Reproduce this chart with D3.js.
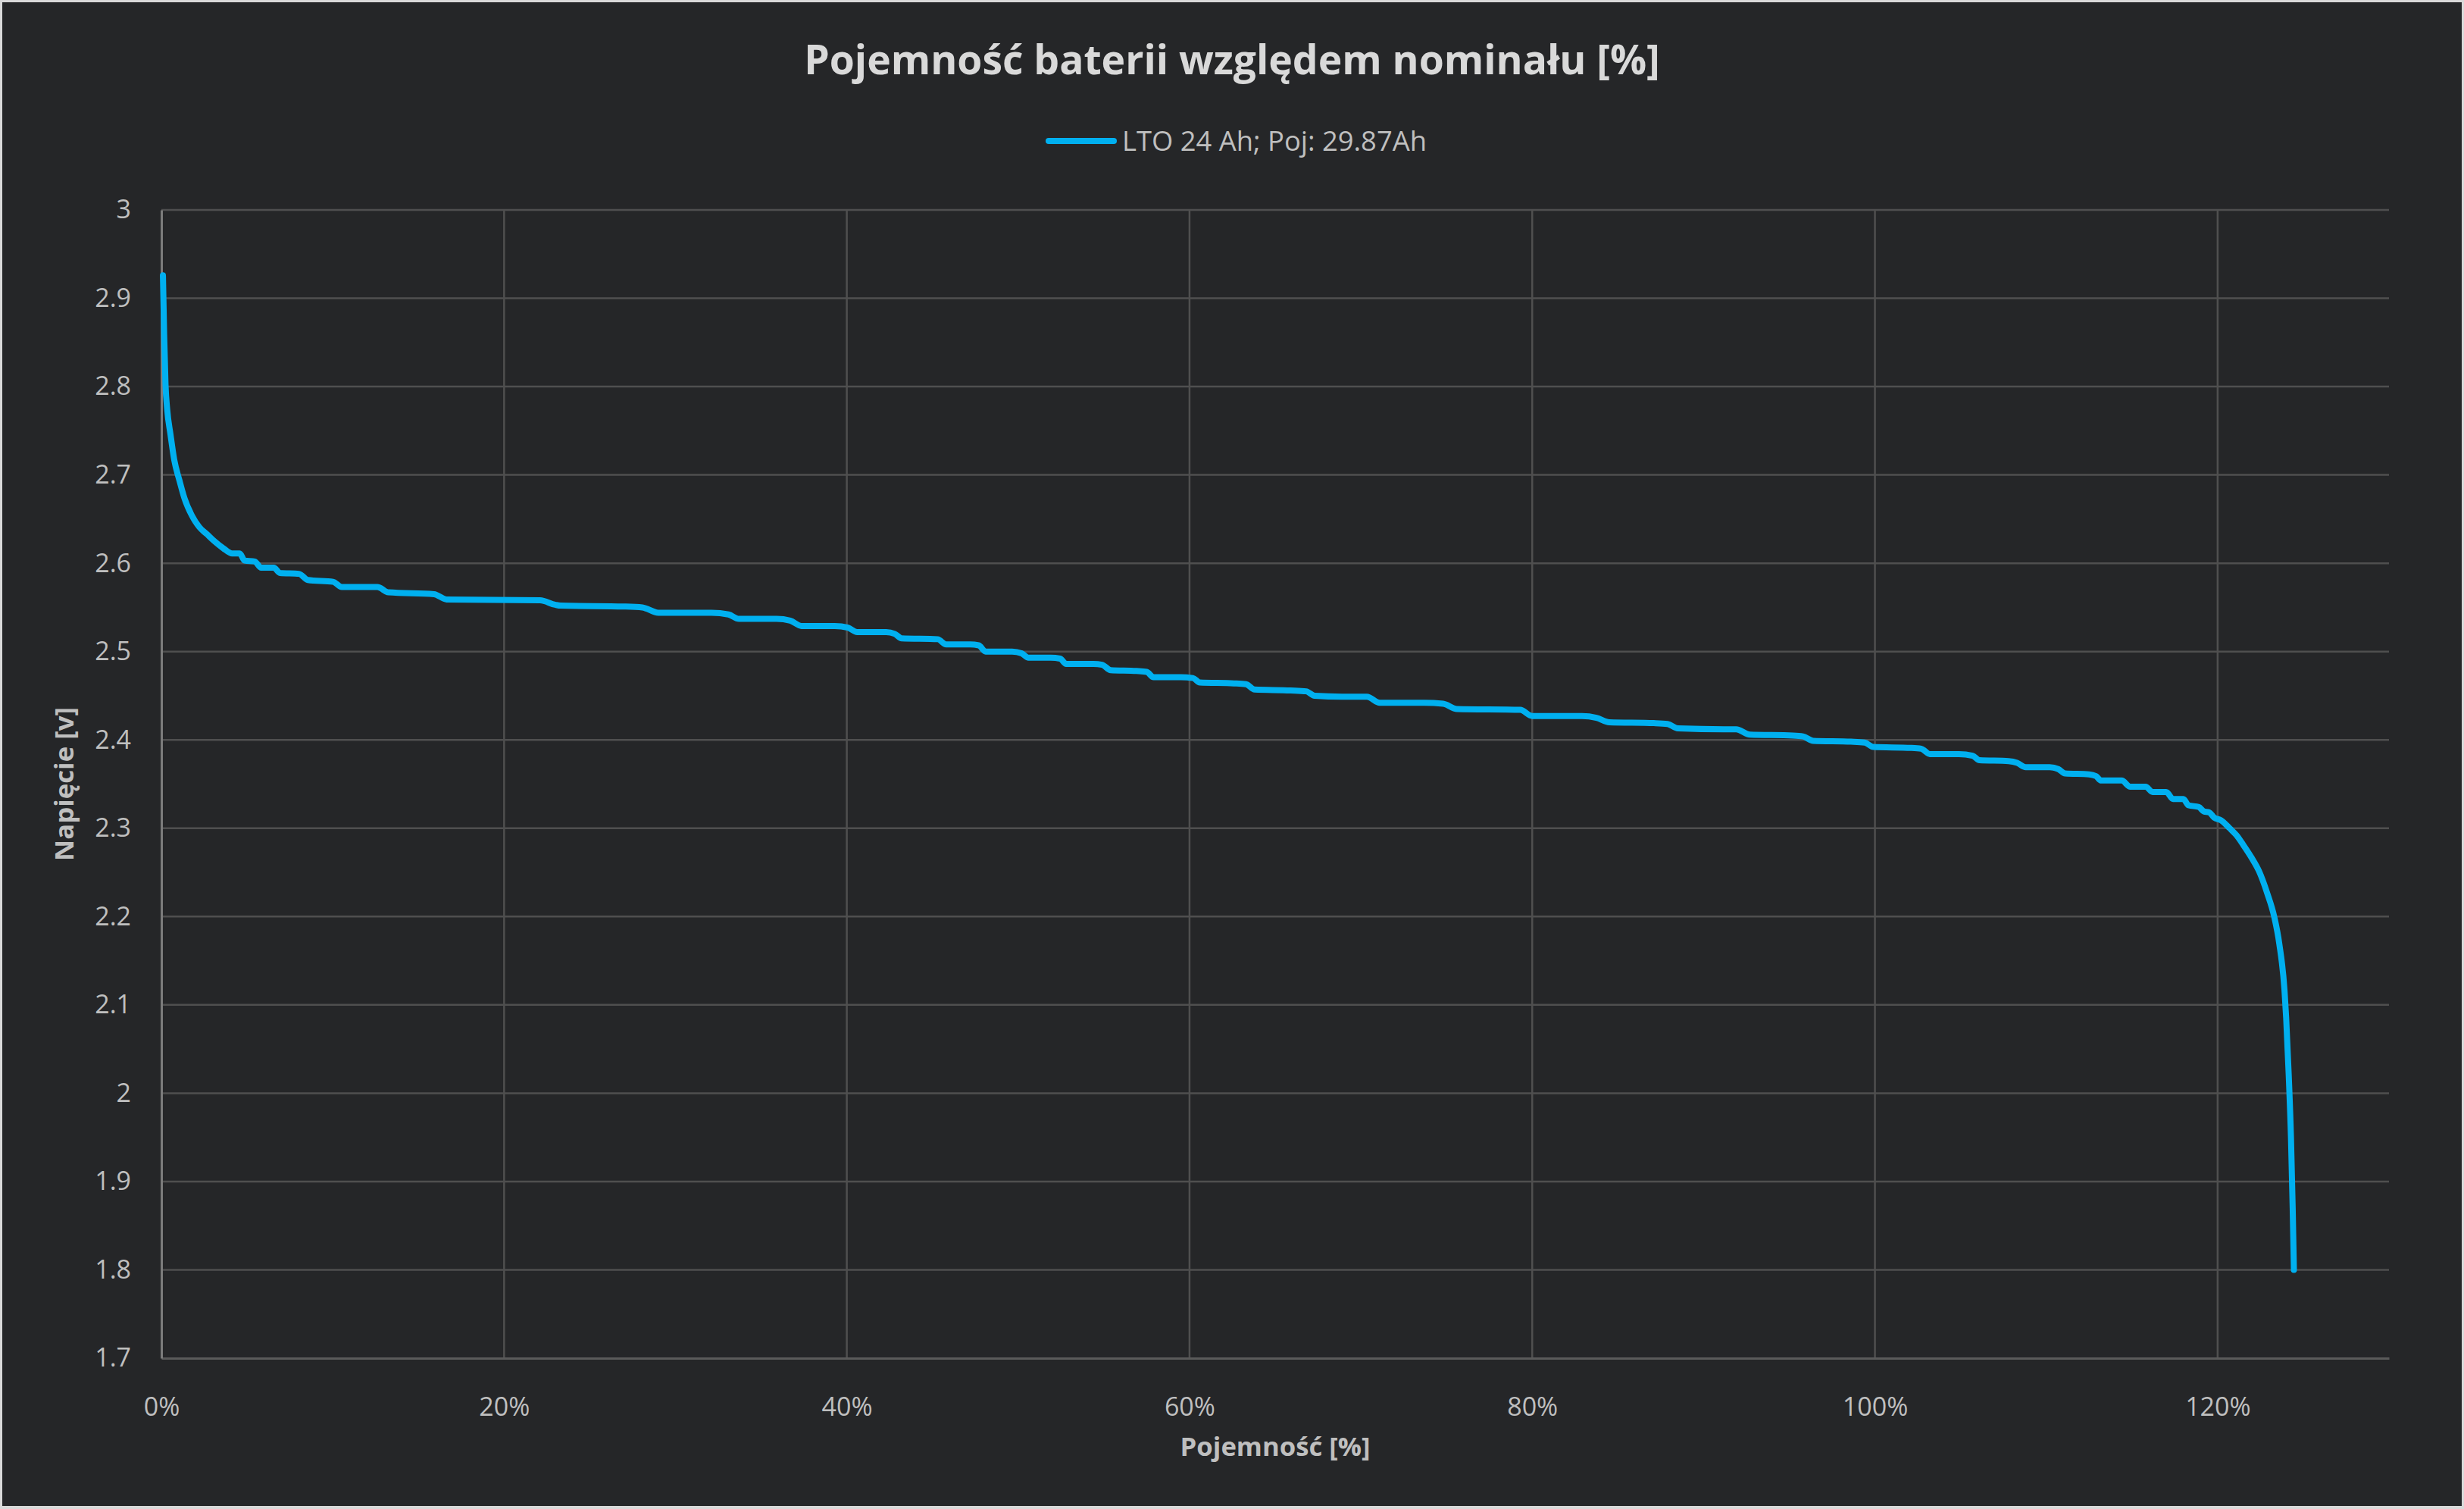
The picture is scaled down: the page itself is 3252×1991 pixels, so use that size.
<!DOCTYPE html>
<html>
<head>
<meta charset="utf-8">
<script src="https://cdn.jsdelivr.net/npm/d3@7"></script>
<style>
    html, body { margin: 0; padding: 0; background: #252628; }
    svg { display: block; }
    text { font-family: "Open Sans", "DejaVu Sans", sans-serif; }
</style>
</head>
<body>
<div id="chart"></div>
<script>
const width = 3252;
const height = 1991;

const titleText = "Pojemność baterii względem nominału [%]";
const seriesName = "LTO 24 Ah; Poj: 29.87Ah";
const xTitle = "Pojemność [%]";
const yTitle = "Napięcie [v]";

const xTicks = [0, 20, 40, 60, 80, 100, 120];
const yTicks = [1.7, 1.8, 1.9, 2.0, 2.1, 2.2, 2.3, 2.4, 2.5, 2.6, 2.7, 2.8, 2.9, 3.0];

// [capacity %, voltage V]
const discharge = [
    [0.09, 2.926], [0.13, 2.889], [0.16, 2.860], [0.24, 2.803], [0.34, 2.774],
    [0.53, 2.746], [0.75, 2.717], [1.05, 2.694], [1.34, 2.674], [1.78, 2.654],
    [2.21, 2.641], [2.65, 2.633], [3.09, 2.625], [3.61, 2.617], [4.13, 2.611],
    [4.57, 2.611], [4.86, 2.603], [5.45, 2.602], [5.82, 2.595], [6.56, 2.595],
    [6.92, 2.589], [8.03, 2.588], [8.55, 2.581], [10.02, 2.579], [10.53, 2.573],
    [12.6, 2.573], [13.26, 2.567], [15.91, 2.565], [16.65, 2.559], [22.1, 2.558],
    [22.98, 2.553], [23.3, 2.552], [27.0, 2.551], [28.07, 2.550], [29.0, 2.544],
    [32.1, 2.544], [33.1, 2.542], [33.7, 2.537], [35.9, 2.537], [36.7, 2.535],
    [37.35, 2.529], [39.3, 2.529], [40.07, 2.527], [40.6, 2.522], [42.3, 2.522],
    [42.8, 2.520], [43.2, 2.515], [45.3, 2.514], [45.8, 2.508], [47.2, 2.508],
    [47.7, 2.507], [48.1, 2.500], [49.65, 2.500], [50.2, 2.498], [50.6, 2.493],
    [51.9, 2.493], [52.45, 2.492], [52.8, 2.486], [54.4, 2.486], [54.9, 2.485],
    [55.4, 2.479], [56.9, 2.478], [57.5, 2.477], [57.9, 2.471], [59.5, 2.471],
    [60.2, 2.470], [60.6, 2.465], [62.6, 2.464], [63.3, 2.463], [63.8, 2.457],
    [65.9, 2.456], [66.8, 2.455], [67.3, 2.450], [68.9, 2.449], [70.35, 2.449],
    [71.1, 2.442], [73.7, 2.442], [74.8, 2.441], [75.6, 2.435], [79.3, 2.434],
    [80.0, 2.427], [82.9, 2.427], [83.75, 2.425], [84.5, 2.420], [87.1, 2.419],
    [87.9, 2.418], [88.5, 2.413], [91.2, 2.412], [91.9, 2.412], [92.7, 2.406],
    [95.2, 2.405], [95.8, 2.404], [96.4, 2.399], [98.6, 2.398], [99.4, 2.397],
    [99.9, 2.392], [102.1, 2.391], [102.7, 2.390], [103.2, 2.384], [104.9, 2.384],
    [105.7, 2.382], [106.1, 2.377], [107.8, 2.376], [108.3, 2.374], [108.8, 2.369],
    [110.2, 2.369], [110.7, 2.367], [111.1, 2.362], [112.5, 2.361], [112.9, 2.359],
    [113.2, 2.354], [114.4, 2.354], [114.9, 2.347], [115.8, 2.347], [116.2, 2.341],
    [117.0, 2.341], [117.4, 2.333], [118.0, 2.333], [118.3, 2.326], [118.9, 2.324],
    [119.2, 2.319], [119.5, 2.318], [119.8, 2.312], [120.2, 2.309], [120.7, 2.300],
    [121.1, 2.292], [121.5, 2.281], [122.0, 2.266], [122.4, 2.252], [122.9, 2.226],
    [123.3, 2.200], [123.6, 2.169], [123.9, 2.117], [124.0, 2.085], [124.15, 2.020],
    [124.28, 1.950], [124.38, 1.870], [124.45, 1.800]
];

const margin = { top: 277, right: 99, bottom: 199, left: 213 };
const lineColor = "#00b0f0";

const svg = d3.select("#chart")
    .append("svg")
    .attr("width", width)
    .attr("height", height);

// frame + background
svg.append("rect")
    .attr("width", width)
    .attr("height", height)
    .attr("fill", "#d9d9d9");

svg.append("rect")
    .attr("x", 3)
    .attr("y", 3)
    .attr("width", width - 6)
    .attr("height", height - 7)
    .attr("fill", "#252628");

const x = d3.scaleLinear()
    .domain([0, 130])
    .range([margin.left, width - margin.right]);

const y = d3.scaleLinear()
    .domain([1.7, 3.0])
    .range([height - margin.bottom, margin.top]);

// shrink or grow a text element's font size so it spans the wanted width
function fitText(sel, target) {
    const node = sel.node();
    const size = parseFloat(sel.attr("font-size"));
    const w = node.getComputedTextLength();
    if (w > 0) sel.attr("font-size", size * target / w);
    return sel;
}

// grid
const grid = svg.append("g");

grid.selectAll(".hgrid")
    .data(yTicks.filter(d => d > 1.7))
    .enter()
    .append("line")
    .attr("class", "hgrid")
    .attr("x1", x(0))
    .attr("x2", x(130))
    .attr("y1", d => y(d))
    .attr("y2", d => y(d))
    .attr("stroke", "#4f4f4f")
    .attr("stroke-width", 2.5);

grid.selectAll(".vgrid")
    .data(xTicks.filter(d => d > 0))
    .enter()
    .append("line")
    .attr("class", "vgrid")
    .attr("x1", d => x(d))
    .attr("x2", d => x(d))
    .attr("y1", y(3.0))
    .attr("y2", y(1.7))
    .attr("stroke", "#4f4f4f")
    .attr("stroke-width", 2.5);

// axes via d3, then restyled
const xAxis = svg.append("g")
    .attr("transform", `translate(0,${y(1.7)})`)
    .call(d3.axisBottom(x).tickValues(xTicks).tickSize(0).tickPadding(52).tickFormat(d => d + "%"));

const yAxis = svg.append("g")
    .attr("transform", `translate(${x(0)},0)`)
    .call(d3.axisLeft(y).tickValues(yTicks).tickSize(0).tickPadding(40).tickFormat(d3.format("")));

xAxis.select(".domain").attr("stroke", "#5a5a5a").attr("stroke-width", 3);
yAxis.select(".domain").attr("stroke", "#7c7c7c").attr("stroke-width", 3);

[xAxis, yAxis].forEach(a => {
    a.selectAll(".tick text")
        .attr("fill", "#bfbfbf")
        .attr("font-size", 34)
        .attr("font-family", "'Open Sans', sans-serif");
});

// the curve
const line = d3.line()
    .x(d => x(d[0]))
    .y(d => y(d[1]))
    .curve(d3.curveMonotoneX);

svg.append("path")
    .datum(discharge)
    .attr("d", line)
    .attr("fill", "none")
    .attr("stroke", lineColor)
    .attr("stroke-width", 8)
    .attr("stroke-linejoin", "round")
    .attr("stroke-linecap", "round");

// title
const title = svg.append("text")
    .attr("x", 1626)
    .attr("y", 98)
    .attr("text-anchor", "middle")
    .attr("font-size", 63)
    .attr("font-weight", 700)
    .attr("fill", "#d9d9d9")
    .text(titleText);
fitText(title, 1130);

// legend
svg.append("line")
    .attr("x1", 1384)
    .attr("x2", 1470)
    .attr("y1", 186)
    .attr("y2", 186)
    .attr("stroke", lineColor)
    .attr("stroke-width", 8)
    .attr("stroke-linecap", "round");

const legendText = svg.append("text")
    .attr("x", 1481)
    .attr("y", 199)
    .attr("font-size", 36)
    .attr("fill", "#bfbfbf")
    .text(seriesName);
fitText(legendText, 402);

// axis titles
const xLabel = svg.append("text")
    .attr("x", x(65))
    .attr("y", 1921)
    .attr("text-anchor", "middle")
    .attr("font-size", 35)
    .attr("font-weight", 700)
    .attr("fill", "#bfbfbf")
    .text(xTitle);
fitText(xLabel, 251);

const yLabel = svg.append("text")
    .attr("transform", `translate(97,${y(2.35)}) rotate(-90)`)
    .attr("text-anchor", "middle")
    .attr("font-size", 35)
    .attr("font-weight", 700)
    .attr("fill", "#bfbfbf")
    .text(yTitle);
fitText(yLabel, 203);
</script>
</body>
</html>
